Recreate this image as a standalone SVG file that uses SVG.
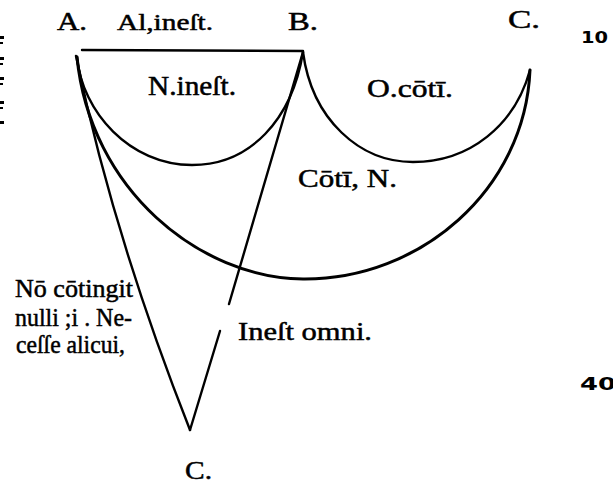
<svg xmlns="http://www.w3.org/2000/svg" width="613" height="489" viewBox="0 0 613 489">
<style>
.ln{fill:none;stroke:#000;stroke-width:2.4;stroke-linecap:round;stroke-linejoin:round}
.thk{stroke-width:3}
.t{font-family:"Liberation Serif","Times New Roman",serif;fill:#000;stroke:#000;stroke-width:0.5}
.n{font-family:"DejaVu Sans","Liberation Sans",sans-serif;font-weight:bold;fill:#000}
</style>
<rect width="613" height="489" fill="#fff"/>
<g id="connectors">
<path id="top-line" class="ln" d="M82,50 L303,51"/>
<path id="arc-N" class="ln" d="M77,57 C82,112 130,165 192,165 C250,165 292,120 303,52"/>
<path id="arc-O" class="ln" d="M303,52 C312,120 360,162 413,162 C470,162 515,125 530,70"/>
<path id="arc-big" class="ln thk" d="M77,57 C90,190 200,278 303,279 C420,280 525,190 530,70"/>
<path id="line-AC" class="ln" d="M76,56 Q113,235 190,430"/>
<path id="line-BC-upper" class="ln" d="M303,52 L229,304"/>
<path id="line-BC-lower" class="ln" d="M220,331 L190,430"/>
</g>
<g id="margin-marks" fill="#000">
<rect x="0" y="36" width="4" height="3"/>
<rect x="0" y="42" width="3" height="2"/>
<rect x="0" y="57" width="4" height="3"/>
<rect x="0" y="63" width="3" height="2"/>
<rect x="0" y="77" width="4" height="3"/>
<rect x="0" y="83" width="3" height="2"/>
<rect x="0" y="101" width="4" height="3"/>
<rect x="0" y="107" width="3" height="2"/>
<rect x="0" y="121" width="4" height="3"/>
</g>
<g id="node-A"><text class="t" x="57" y="30" font-size="25" textLength="30" lengthAdjust="spacingAndGlyphs">A.</text></g>
<g id="label-Al"><text class="t" x="117" y="30" font-size="24" textLength="96" lengthAdjust="spacingAndGlyphs">Al,ineſt.</text></g>
<g id="node-B"><text class="t" x="288" y="30" font-size="25" textLength="30" lengthAdjust="spacingAndGlyphs">B.</text></g>
<g id="node-C-top"><text class="t" x="508" y="28" font-size="25" textLength="32" lengthAdjust="spacingAndGlyphs">C.</text></g>
<g id="label-N"><text class="t" x="148" y="95" font-size="27" textLength="88" lengthAdjust="spacingAndGlyphs">N.ineſt.</text></g>
<g id="label-O"><text class="t" x="367" y="97" font-size="26" textLength="86" lengthAdjust="spacingAndGlyphs">O.cōtī.</text></g>
<g id="label-CotiN"><text class="t" x="298" y="187" font-size="26" textLength="99" lengthAdjust="spacingAndGlyphs">Cōtī, N.</text></g>
<g id="label-left">
<text class="t" x="15" y="297" font-size="26" textLength="118" lengthAdjust="spacingAndGlyphs">Nō cōtingit</text>
<text class="t" x="15" y="326" font-size="26" textLength="117" lengthAdjust="spacingAndGlyphs">nulli ;i . Ne-</text>
<text class="t" x="16" y="353" font-size="26" textLength="109" lengthAdjust="spacingAndGlyphs">ceſſe alicui,</text>
</g>
<g id="label-omni"><text class="t" x="238" y="340" font-size="26" textLength="134" lengthAdjust="spacingAndGlyphs">Ineſt omni.</text></g>
<g id="node-C-bottom"><text class="t" x="185" y="479" font-size="25" textLength="27" lengthAdjust="spacingAndGlyphs">C.</text></g>
<g id="margin-numbers">
<text class="n" x="581" y="43" font-size="16" textLength="27" lengthAdjust="spacingAndGlyphs">10</text>
<text class="n" x="580" y="390" font-size="17" textLength="36" lengthAdjust="spacingAndGlyphs">40</text>
</g>
</svg>
